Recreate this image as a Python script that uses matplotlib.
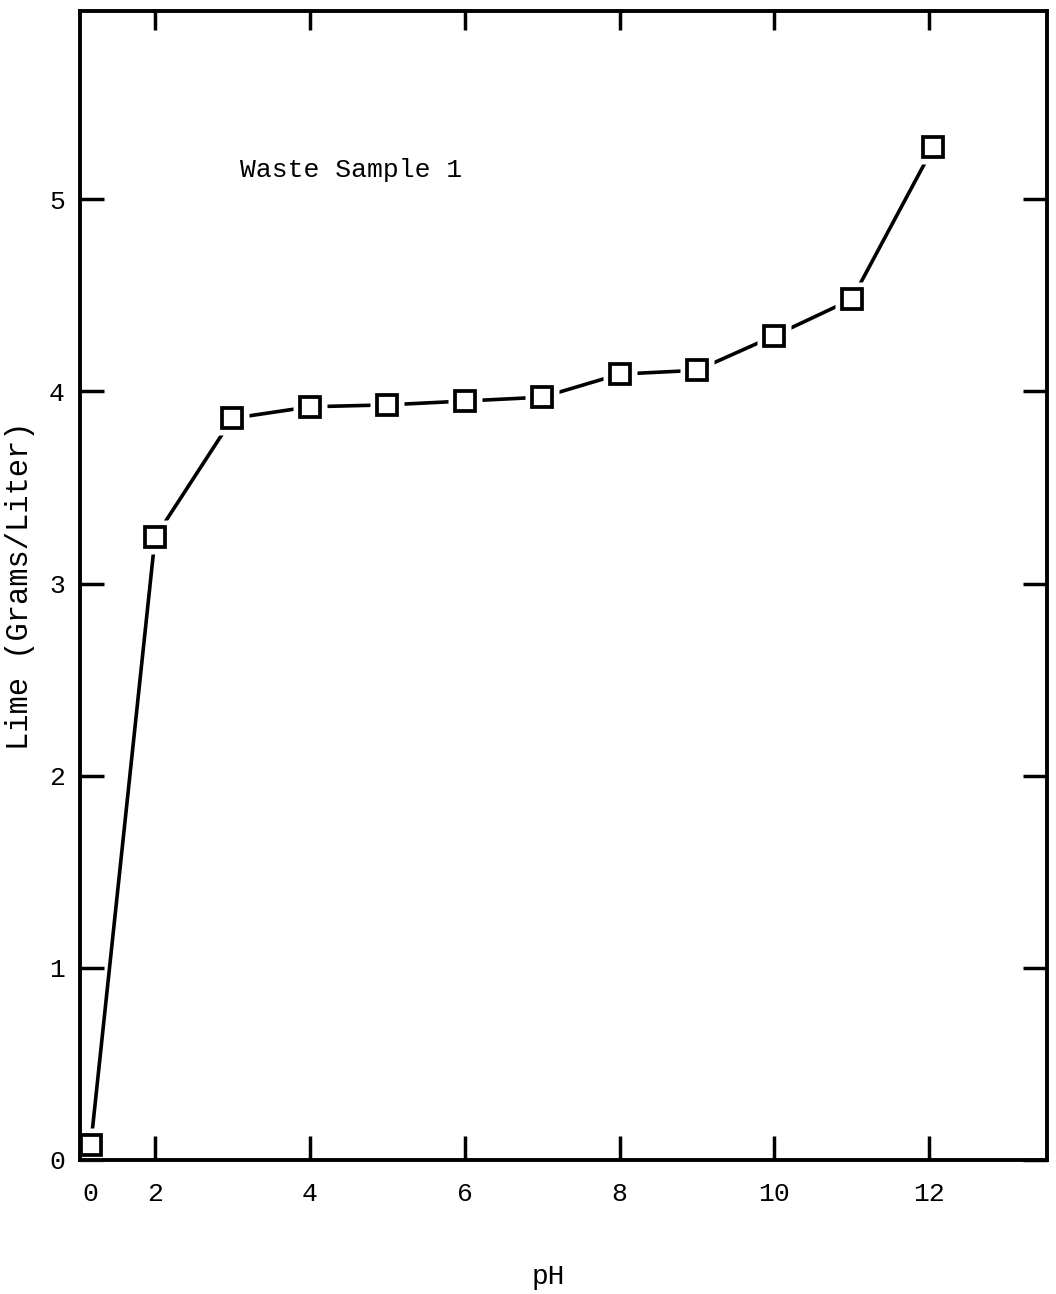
import numpy as np
import matplotlib
matplotlib.use("Agg")
import matplotlib.pyplot as plt

# data
ph = [0, 2, 3, 4, 5, 6, 7, 8, 9, 10, 11, 12.05]
lime = [0.08, 3.24, 3.86, 3.92, 3.93, 3.95, 3.97, 4.09, 4.11, 4.29, 4.48, 5.27]
xticks = [0, 2, 4, 6, 8, 10, 12]
yticks = [0, 1, 2, 3, 4, 5]

# the original x axis squeezes the 0-2 interval
def fwd(x):
    x = np.asarray(x, dtype=float)
    return np.where(x < 2, 1.17 + x * 0.415, x)

def inv(y):
    y = np.asarray(y, dtype=float)
    return np.where(y < 2, (y - 1.17) / 0.415, y)

plt.rcParams['font.family'] = ['Liberation Mono', 'DejaVu Sans Mono']

fig = plt.figure(figsize=(10.56, 12.94), dpi=100)
ax = fig.add_axes([0.0758, 0.1036, 0.9157, 0.8879])
ax.set_xscale('function', functions=(fwd, inv))
ax.set_xlim(-0.335, 13.52)
ax.set_ylim(0, 5.98)

ax.plot(ph, lime, color='black', lw=2.6, zorder=2, clip_on=False)
# white pads so the line stops short of each box
ax.plot(ph, lime, ls='none', marker='s', ms=24, mfc='white', mec='none', zorder=3, clip_on=False)
ax.plot(ph, lime, ls='none', marker='s', ms=15, mfc='white', mec='black', mew=2.7, zorder=4, clip_on=False)

for s in ax.spines.values():
    s.set_linewidth(2.8)
    s.set_zorder(5)

ax.set_xticks(xticks)
ax.set_xticklabels([str(t) for t in xticks])
ax.set_yticks(yticks)
ax.tick_params(axis='both', direction='in', length=17, width=2.5, labelsize=19)
ax.tick_params(axis='x', pad=16)
ax.tick_params(axis='y', pad=11, right=True)

top = ax.twiny()
top.set_xscale('function', functions=(fwd, inv))
top.set_xlim(ax.get_xlim())
top.set_xticks(xticks[1:])
top.set_xticklabels([])
top.tick_params(axis='x', direction='in', length=14, width=2.5)
for s in top.spines.values():
    s.set_visible(False)

ax.text(3.1, 5.15, 'Waste Sample 1', fontsize=19, va='center', ha='left')
fig.text(548 / 1056, 1 - 1277 / 1294, 'pH', fontsize=20, ha='center', va='center')
ax.set_ylabel('Lime (Grams/Liter)', fontsize=22, labelpad=10)

fig.savefig('out.png', dpi=100)
